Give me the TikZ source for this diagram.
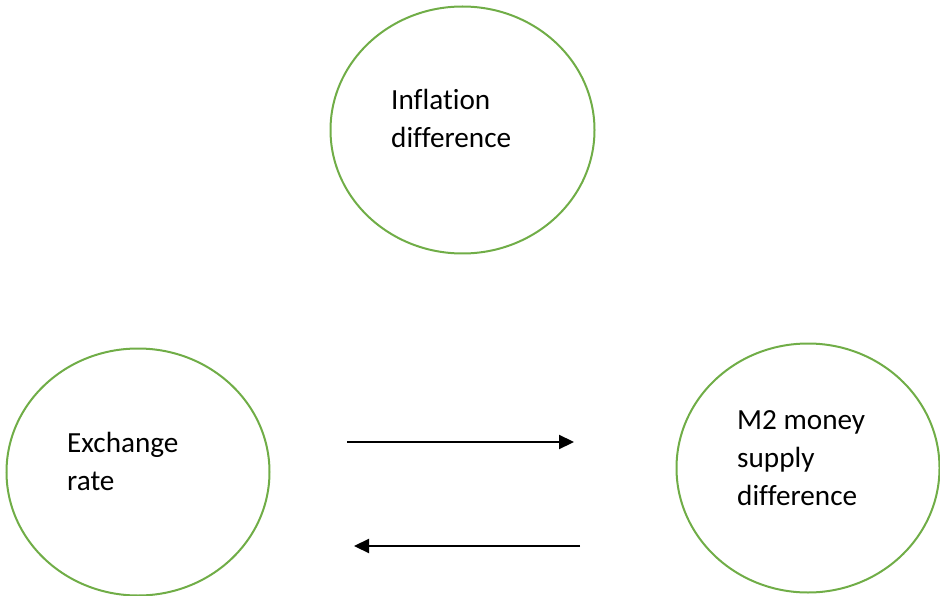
\documentclass[tikz,border=0pt]{standalone}
\usepackage{fontspec}
\setmainfont[Ligatures={NoCommon}]{Carlito}
\usetikzlibrary{shapes.geometric,arrows.meta}
\begin{document}
\begin{tikzpicture}[x=1pt,y=-1pt,
  bubble/.style={draw=bubblegreen,line width=2pt,ellipse,inner sep=0pt},
  lbl/.style={anchor=base west,inner sep=0pt,font=\fontsize{29.2}{38}\selectfont},
  flow/.style={line width=2.2pt,-{Triangle[length=15pt,width=14pt]}}]
\definecolor{bubblegreen}{RGB}{112,173,71}
\useasboundingbox (0,0) rectangle (940,596);
\node[bubble,minimum width=264pt,minimum height=247pt] (infl) at (462.5,130) {};
\node[bubble,minimum width=263pt,minimum height=247pt] (exch) at (138,472) {};
\node[bubble,minimum width=263pt,minimum height=249pt] (m2) at (808,468) {};
\node[lbl] (t1) at (391,110) {Inflation};
\node[lbl] (t2) at (391,148) {difference};
\node[lbl] (t3) at (67,452) {Exchange};
\node[lbl] (t4) at (67,490) {rate};
\node[lbl] (t5) at (737,429) {M2 money};
\node[lbl] (t6) at (737,467) {supply};
\node[lbl] (t7) at (737,505) {difference};
\coordinate (a1s) at (347,442);
\coordinate (a1e) at (574,442);
\coordinate (a2s) at (580,546);
\coordinate (a2e) at (354,546);
\draw[flow] (a1s) -- (a1e);
\draw[flow] (a2s) -- (a2e);
\end{tikzpicture}
\end{document}
